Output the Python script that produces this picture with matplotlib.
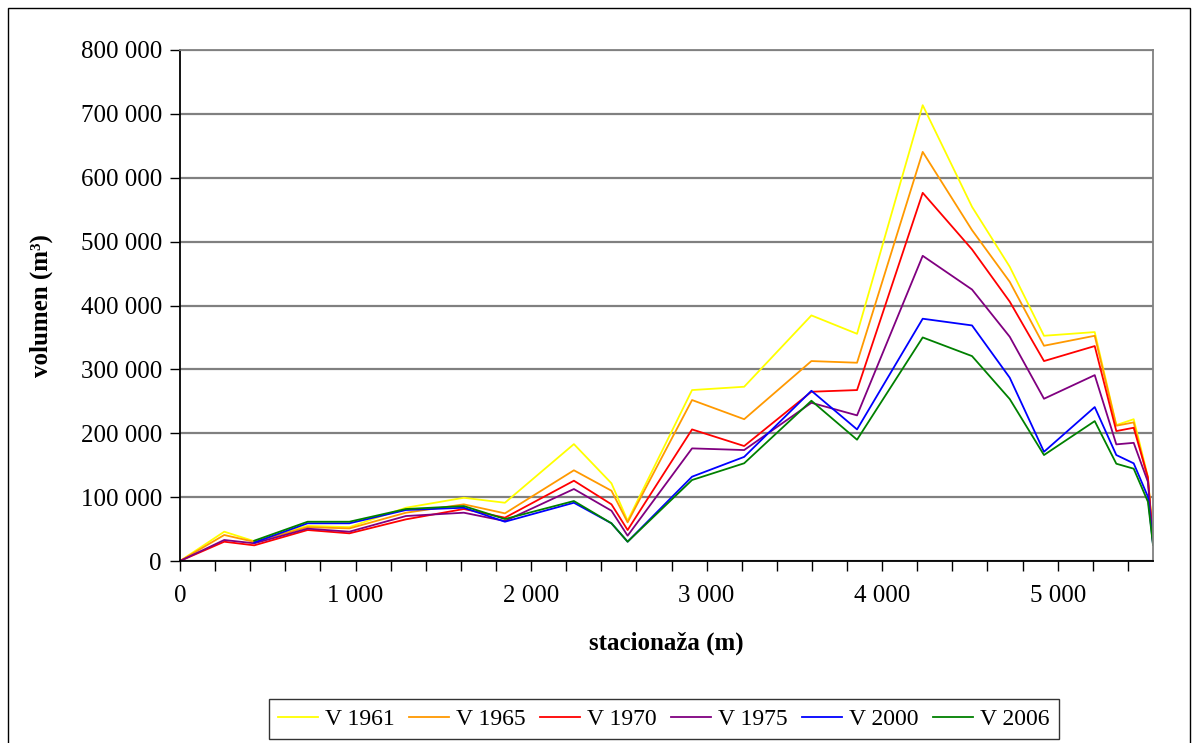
import numpy as np
import matplotlib
matplotlib.use("Agg")
import matplotlib.pyplot as plt
from matplotlib.ticker import FuncFormatter, MultipleLocator
from matplotlib.patches import Rectangle

# -----------------------------
# Data
# -----------------------------
stacionaza = [0, 252, 423, 727, 965, 1287, 1617, 1851, 2244, 2458, 2550, 2917,
              3214, 3597, 3857, 4231, 4512, 4727, 4922, 5211, 5334, 5433, 5514, 5543]

v1961 = [0, 45900, 31000, 55000, 53000, 83400, 99000, 91200, 183000, 121600, 63000, 267600,
         272800, 384500, 355700, 713600, 554500, 460600, 352600, 358400, 212800, 222000, 132000, 35000]
v1965 = [0, 40700, 30000, 53000, 51000, 75600, 88700, 74600, 142000, 110000, 60500, 252000,
         222000, 313000, 310400, 640500, 518000, 437000, 337000, 352600, 211800, 217000, 128000, 34000]
v1970 = [0, 30200, 24500, 48500, 43300, 65200, 81400, 67800, 125700, 88700, 48500, 206000,
         180000, 265000, 267600, 576400, 487800, 406000, 313000, 336500, 203400, 208600, 131000, 30000]
v1975 = [0, 32900, 27700, 50600, 45900, 70400, 75600, 62600, 112700, 78700, 39600, 176300,
         173700, 247700, 228000, 477800, 425000, 351000, 254000, 291000, 182600, 185000, 124000, 28000]
v2000 = [np.nan, np.nan, 29000, 59000, 59000, 79800, 83400, 61500, 91200, 59000, 30200, 132000,
         163000, 266500, 206000, 379300, 368800, 286900, 171000, 241000, 165900, 152900, 100600, 26000]
v2006 = [np.nan, np.nan, 31800, 61500, 61500, 81400, 86000, 65700, 93900, 59000, 30200, 126800,
         153000, 250900, 189900, 350000, 320800, 253500, 165900, 219000, 152300, 144500, 92800, 25000]

series = [("V 1961", v1961, "#FFFF00"),
          ("V 1965", v1965, "#FF9900"),
          ("V 1970", v1970, "#FF0000"),
          ("V 1975", v1975, "#800080"),
          ("V 2000", v2000, "#0000FF"),
          ("V 2006", v2006, "#008000")]

# -----------------------------
# Figure
# -----------------------------
plt.rcParams["font.family"] = ["Liberation Serif", "DejaVu Serif"]

fig = plt.figure(figsize=(11.94, 7.43), dpi=100)
ax = fig.add_axes([180 / 1194, 1 - 561 / 743, (1153 - 180) / 1194, (561 - 50) / 743])

for name, vals, col in series:
    ax.plot(stacionaza, vals, color=col, lw=1.3, label=name)

ax.set_xlim(0, 5543)
ax.set_ylim(0, 800000)

ax.xaxis.set_major_locator(MultipleLocator(1000))
ax.xaxis.set_minor_locator(MultipleLocator(200))
ax.yaxis.set_major_locator(MultipleLocator(100000))

fmt = FuncFormatter(lambda v, p: f"{v:,.0f}".replace(",", " "))
ax.xaxis.set_major_formatter(fmt)
ax.yaxis.set_major_formatter(fmt)

ax.tick_params(axis="both", which="both", direction="out", length=7, width=1,
               color="black", labelsize=18)
ax.tick_params(axis="x", pad=10)
ax.tick_params(axis="y", pad=6)

ax.grid(axis="y", color="#808080", lw=1.6)
ax.set_axisbelow(True)

ax.spines["left"].set_color("black")
ax.spines["bottom"].set_color("black")
ax.spines["right"].set_color("#808080")
ax.spines["top"].set_color("#808080")
for s in ax.spines.values():
    s.set_linewidth(1.3)

ax.set_xlabel("stacionaža (m)", fontsize=18, fontweight="bold", labelpad=18)
ax.set_ylabel("volumen (m³)", fontsize=18, fontweight="bold", labelpad=20)

leg = ax.legend(loc="center", bbox_to_anchor=(0.556, 0.032), bbox_transform=fig.transFigure,
                ncol=6, fontsize=17, frameon=True, fancybox=False, edgecolor="black",
                handlelength=1.7, handletextpad=0.3, columnspacing=0.6,
                borderpad=0.4, borderaxespad=0)
leg.get_frame().set_linewidth(1.0)

# outer chart border
fig.patches.append(Rectangle((8 / 1194, -0.01), (1190 - 8) / 1194, 1 - 8 / 743 + 0.01,
                             transform=fig.transFigure, fill=False, edgecolor="black", lw=1.0))

fig.savefig("out.png", dpi=100)
